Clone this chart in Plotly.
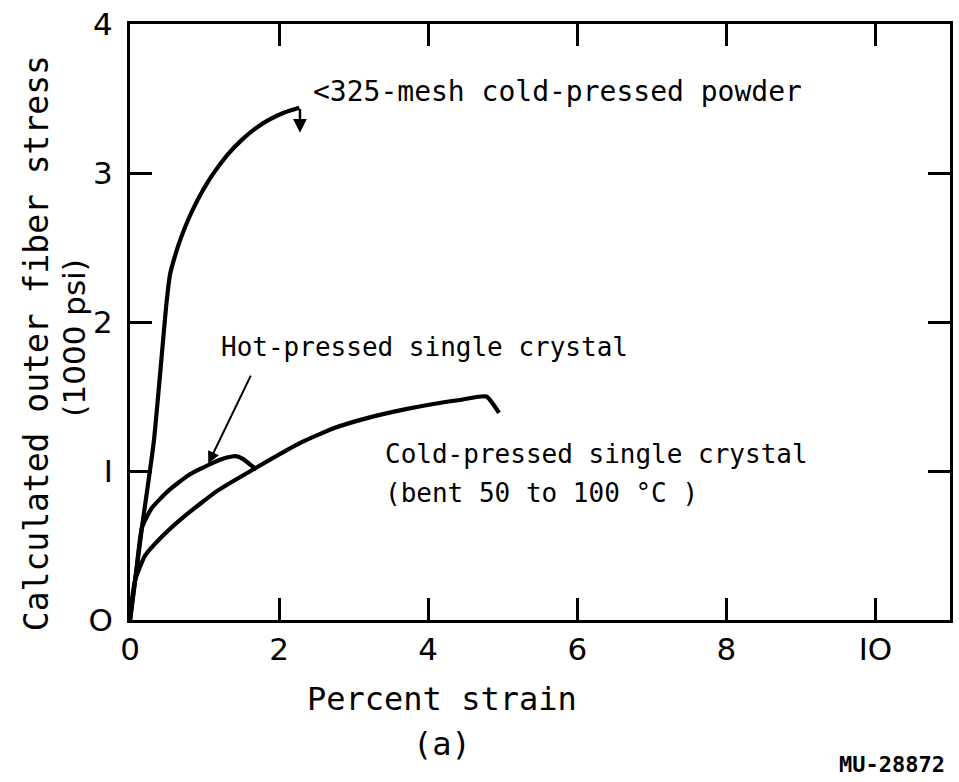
import plotly.graph_objects as go

# Stress-strain curves (percent strain, stress in 1000 psi)
powder_strain = [0.0, 0.16, 0.32, 0.49, 0.538, 0.604, 0.693, 0.804, 0.916, 1.049, 1.16,
                 1.316, 1.493, 1.671, 1.849, 2.071, 2.271]
powder_stress = [0.0, 0.62, 1.20, 2.13, 2.322, 2.444, 2.578, 2.713, 2.827, 2.944, 3.026,
                 3.127, 3.219, 3.294, 3.353, 3.406, 3.438]

hot_strain = [0.0, 0.08, 0.16, 0.29, 0.52, 0.78, 1.09, 1.30, 1.42, 1.52, 1.62, 1.70]
hot_stress = [0.0, 0.31, 0.62, 0.75, 0.87, 0.97, 1.05, 1.09, 1.10, 1.08, 1.04, 1.01]

cold_strain = [0.0, 0.03, 0.07, 0.20, 0.43, 0.74, 1.18, 1.72, 2.29, 2.75, 3.18, 3.70, 4.07, 4.40, 4.78, 4.95]
cold_stress = [0.0, 0.15, 0.27, 0.43, 0.56, 0.70, 0.87, 1.03, 1.19, 1.29, 1.355, 1.415, 1.45, 1.475, 1.50, 1.39]

x_ticks = [0, 2, 4, 6, 8, 10]
x_labels = ["0", "2", "4", "6", "8", "IO"]
y_ticks = [0, 1, 2, 3, 4]
y_labels = ["O", "I", "2", "3", "4"]

FONT = "DejaVu Sans"
MONO = "DejaVu Sans Mono"
line_style = dict(color="black", width=4.2, shape="spline", smoothing=0.5)

fig = go.Figure()
for xs, ys in [(powder_strain, powder_stress), (hot_strain, hot_stress), (cold_strain, cold_stress)]:
    fig.add_trace(go.Scatter(x=xs, y=ys, mode="lines", line=line_style,
                             showlegend=False, hoverinfo="skip"))

axis_common = dict(showline=True, linecolor="black", linewidth=3, mirror="ticks",
                   ticks="inside", ticklen=22, tickwidth=2.5, tickcolor="black",
                   showgrid=False, zeroline=False,
                   tickfont=dict(family=FONT, size=31, color="black"))

fig.update_xaxes(range=[0, 11], tickvals=x_ticks, ticktext=x_labels, **axis_common)
fig.update_yaxes(range=[0, 4], tickvals=y_ticks, ticktext=y_labels,
                 ticklabelstandoff=8, **axis_common)

lab = dict(family=MONO, size=26, color="black")
title_font = dict(family=MONO, size=32, color="black")
annotations = [
    dict(x=2.43, y=3.55, text="<325-mesh cold-pressed powder", showarrow=False,
         xanchor="left", yanchor="middle", font=dict(family=MONO, size=28, color="black")),
    dict(x=1.2, y=1.83, text="Hot-pressed single crystal", showarrow=False,
         xanchor="left", yanchor="middle", font=lab),
    dict(x=3.4, y=1.113, text="Cold-pressed single crystal", showarrow=False,
         xanchor="left", yanchor="middle", font=lab),
    dict(x=3.4, y=0.853, text="(bent 50 to 100 °C )", showarrow=False,
         xanchor="left", yanchor="middle", font=lab),
    # fracture arrow on the powder curve
    dict(x=2.28, y=3.27, ax=2.28, ay=3.44, axref="x", ayref="y", text="",
         showarrow=True, arrowhead=2, arrowsize=1.1, arrowwidth=2.5, arrowcolor="black"),
    # pointer to the hot-pressed curve
    dict(x=1.05, y=1.05, ax=1.63, ay=1.65, axref="x", ayref="y", text="",
         showarrow=True, arrowhead=2, arrowsize=1.2, arrowwidth=2, arrowcolor="black"),
    # axis titles and figure tag
    dict(xref="paper", yref="paper", x=0.380, y=-0.133, text="Percent strain",
         showarrow=False, xanchor="center", yanchor="middle", font=title_font),
    dict(xref="paper", yref="paper", x=0.380, y=-0.208, text="(a)",
         showarrow=False, xanchor="center", yanchor="middle", font=title_font),
    dict(xref="paper", yref="paper", x=0.996, y=-0.242, text="<b>MU-28872</b>",
         showarrow=False, xanchor="right", yanchor="middle",
         font=dict(family=MONO, size=22, color="black")),
    dict(xref="paper", yref="y", x=-0.113, y=1.86, text="Calculated outer fiber stress",
         textangle=-90, showarrow=False, xanchor="center", yanchor="middle",
         font=dict(family=MONO, size=33, color="black")),
    dict(xref="paper", yref="y", x=-0.068, y=1.89, text="(1000 psi)",
         textangle=-90, showarrow=False, xanchor="center", yanchor="middle",
         font=dict(family=FONT, size=31, color="black")),
]
for a in annotations:
    a.setdefault("xref", "x")
    a.setdefault("yref", "y")
fig.update_layout(annotations=annotations)

fig.update_layout(width=959, height=782, margin=dict(l=130, r=6, t=20, b=162),
                  paper_bgcolor="white", plot_bgcolor="white")

fig.write_html("out.html")
